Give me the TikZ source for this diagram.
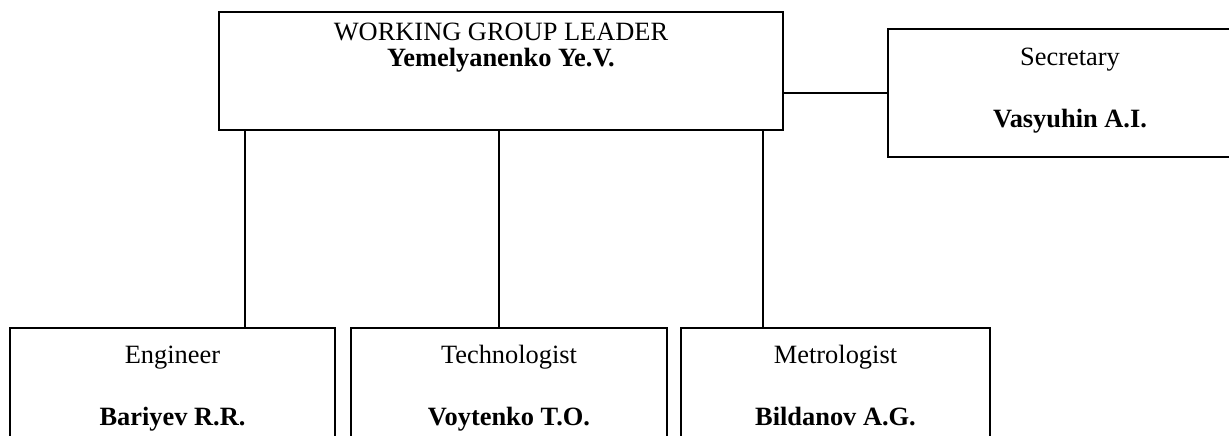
\documentclass[tikz,border=0pt]{standalone}
\usepackage{fontspec}
\setmainfont{Liberation Serif}
\usepackage{tikz}

\tikzset{
  box/.style={draw,line width=.9pt,inner sep=0pt},
  txt/.style={anchor=base,inner sep=0pt,font=\fontsize{13.2}{16}\selectfont},
}

\begin{document}
\begin{tikzpicture}[yscale=-1,x=.5pt,y=.5pt]

        \useasboundingbox (0,0) rectangle (1229,435);
        \clip (0,0) rectangle (1229,435);

        \node[box,minimum width=282pt,minimum height=59pt] (leader) at (501,71) {};
        \node[txt] at (501,40) {WORKING GROUP LEADER};
        \node[txt] at (501,66) {\bfseries Yemelyanenko Ye.V.};

        \node[box,minimum width=182pt,minimum height=64pt] (secr) at (1070,93) {};
        \node[txt] at (1070,65) {Secretary};
        \node[txt] at (1070,127) {\bfseries Vasyuhin A.I.};

        \foreach \n/\x/\w/\role/\who in {eng/172.5/162.5/Engineer/Bariyev R.R.,
            tech/509/158/Technologist/Voytenko T.O.,
            metr/835.5/154.5/Metrologist/Bildanov A.G.} {
          \node[box,minimum width=\w pt,minimum height=66pt] (\n) at (\x,394) {};
          \node[txt] at (\x,363) {\role};
          \node[txt] at (\x,425) {\bfseries \who};
        }

        \foreach \x/\n in {245/eng,499/tech,763/metr} {
          \draw[line width=.9pt] (leader.south -| \x,0) -- (\n.north -| \x,0);
        }
        \draw[line width=.9pt] (leader.east |- secr.west) -- (secr.west);
    \end{tikzpicture}
\end{document}
